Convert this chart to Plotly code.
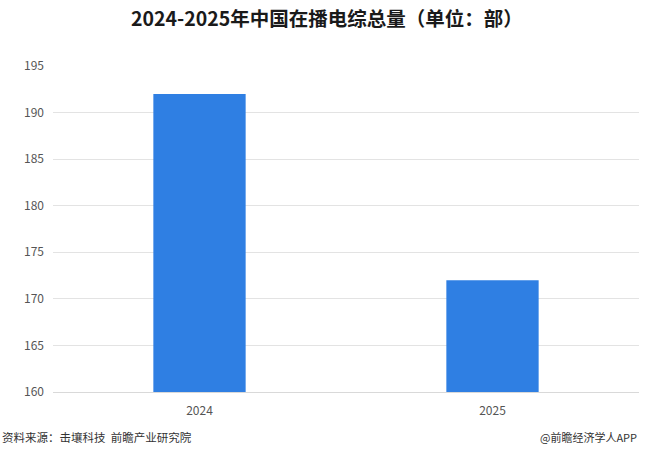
import plotly.graph_objects as go

years = ["2024", "2025"]
values = [192, 172]
y_ticks = [160, 165, 170, 175, 180, 185, 190, 195]

fig = go.Figure()
fig.add_trace(go.Bar(
    x=years, y=values,
    marker=dict(color="#2f7fe3", line=dict(width=0)),
    width=0.315,
))

font_cjk = "Noto Sans CJK SC, Noto Sans, sans-serif"
fig.update_layout(
    width=650, height=452,
    margin=dict(l=53, r=11, t=66, b=60),
    paper_bgcolor="white", plot_bgcolor="white",
    showlegend=False,
    font=dict(family=font_cjk, color="#555555", size=12),
    title=dict(text="<b>2024-2025年中国在播电综总量（单位：部）</b>",
               x=0.503, xanchor="center", y=0.958, yanchor="middle",
               font=dict(size=19.5, color="#1a1a1a", family=font_cjk)),
    xaxis=dict(showgrid=False, showline=True, linecolor="#d9d9d9", linewidth=1,
               ticks="", tickfont=dict(size=12, color="#555555"), ticklabelstandoff=8),
    yaxis=dict(range=[160, 195], tickvals=y_ticks, showgrid=True, gridcolor="#e3e3e3",
               gridwidth=1, zeroline=False, showline=False, ticks="",
               tickfont=dict(size=12, color="#555555"), ticklabelstandoff=8),
)
fig.add_annotation(text="资料来源：击壤科技  前瞻产业研究院", xref="paper", yref="paper",
                   x=-53/586, y=-45/326, xanchor="left", yanchor="middle", showarrow=False,
                   font=dict(size=11.5, color="#333333", family=font_cjk))
fig.add_annotation(text="@前瞻经济学人APP", xref="paper", yref="paper",
                   x=1.0, y=-45/326, xanchor="right", yanchor="middle", showarrow=False,
                   font=dict(size=11, color="#333333", family=font_cjk))
fig.write_html("out.html")
